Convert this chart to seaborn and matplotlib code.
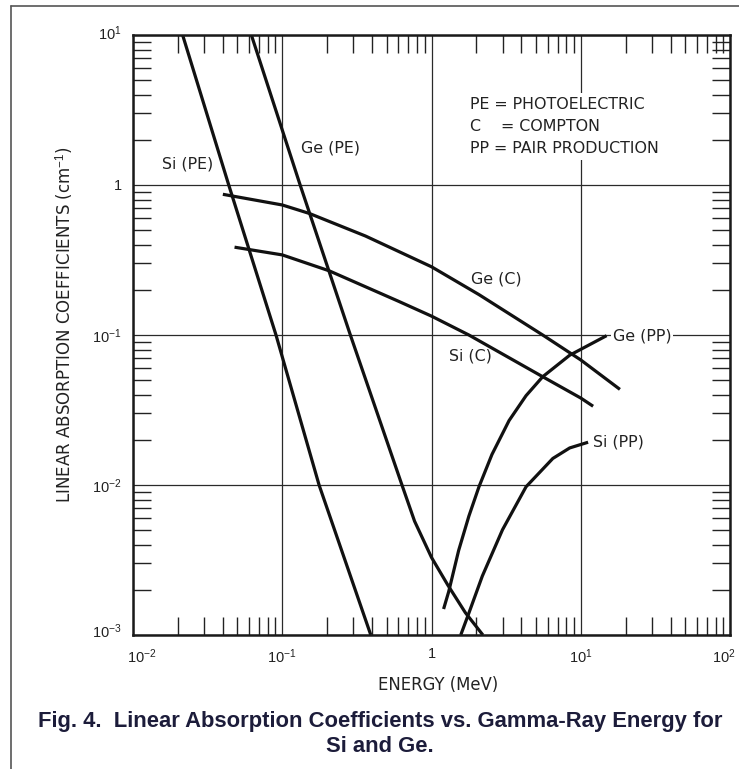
import matplotlib
matplotlib.use("Agg")
import matplotlib.pyplot as plt
from matplotlib.lines import Line2D
from matplotlib.transforms import ScaledTranslation
from matplotlib.ticker import LogLocator, NullFormatter, FixedLocator, FixedFormatter
import pandas as pd
import seaborn as sns

# Linear absorption coefficients (cm^-1) against gamma-ray energy (MeV)
si_pe_energy = [0.0215, 0.0438, 0.0908, 0.1765, 0.392]
si_pe_mu = [10.0, 1.0, 0.1, 0.01, 0.001]

ge_pe_energy = [0.0621, 0.1318, 0.286, 0.634, 0.77, 1.0, 1.287, 1.685, 2.21]
ge_pe_mu = [10.0, 1.0, 0.1, 0.01, 0.00574, 0.00329, 0.00215, 0.00141, 0.001]

ge_c_energy = [0.040, 0.100, 0.152, 0.361, 1.0, 2.078, 5.56, 10.0, 18.3]
ge_c_mu = [0.867, 0.736, 0.646, 0.457, 0.285, 0.186, 0.100, 0.0682, 0.0434]

si_c_energy = [0.0479, 0.100, 0.206, 0.603, 1.0, 1.78, 5.56, 10.0, 12.1]
si_c_mu = [0.385, 0.342, 0.268, 0.1676, 0.1336, 0.100, 0.0527, 0.038, 0.0335]

ge_pp_energy = [1.205, 1.303, 1.52, 1.78, 2.08, 2.54, 3.31, 4.30, 5.56, 8.43, 14.9]
ge_pp_mu = [0.00149, 0.00194, 0.00366, 0.0062, 0.00973, 0.01596, 0.0269, 0.0394,
            0.0527, 0.0733, 0.099]

si_pp_energy = [1.57, 1.78, 2.19, 2.99, 4.30, 6.5, 8.43, 11.2]
si_pp_mu = [0.001, 0.0014, 0.00247, 0.00503, 0.00973, 0.01503, 0.01766, 0.01928]

curve_names = ["Si (PE)", "Ge (PE)", "Ge (C)", "Si (C)", "Ge (PP)", "Si (PP)"]
curve_data = [
    (si_pe_energy, si_pe_mu),
    (ge_pe_energy, ge_pe_mu),
    (ge_c_energy, ge_c_mu),
    (si_c_energy, si_c_mu),
    (ge_pp_energy, ge_pp_mu),
    (si_pp_energy, si_pp_mu),
]

x_ticks = [1e-2, 1e-1, 1, 1e1, 1e2]
x_tick_labels = [r"$10^{-2}$", r"$10^{-1}$", "1", r"$10^{1}$", r"$10^{2}$"]
y_ticks = [1e-3, 1e-2, 1e-1, 1, 1e1]
y_tick_labels = [r"$10^{-3}$", r"$10^{-2}$", r"$10^{-1}$", "1", r"$10^{1}$"]

legend_lines = ["PE = PHOTOELECTRIC", "C    = COMPTON", "PP = PAIR PRODUCTION"]

frames = []
for name, (e, mu) in zip(curve_names, curve_data):
    frames.append(pd.DataFrame({"energy": e, "mu": mu, "curve": name}))
df = pd.concat(frames, ignore_index=True)

sns.set_theme(style="white")
plt.rcParams["font.family"] = ["Liberation Sans", "DejaVu Sans"]
plt.rcParams["mathtext.fontset"] = "custom"
plt.rcParams["mathtext.rm"] = "Liberation Sans"
plt.rcParams["mathtext.it"] = "Liberation Sans:italic"
plt.rcParams["mathtext.bf"] = "Liberation Sans:bold"

W, H = 739, 769
fig = plt.figure(figsize=(W / 100, H / 100), dpi=100)
fig.patch.set_facecolor("white")
ax = fig.add_axes([133 / W, 1 - 635 / H, 597 / W, 600 / H])

sns.lineplot(data=df, x="energy", y="mu", units="curve", estimator=None,
             sort=False, color="#111111", lw=2.3, ax=ax, legend=False,
             solid_capstyle="butt", solid_joinstyle="round")

ax.set_xscale("log")
ax.set_yscale("log")
ax.set_xlim(1e-2, 1e2)
ax.set_ylim(1e-3, 1e1)

ax.xaxis.set_major_locator(FixedLocator(x_ticks))
ax.xaxis.set_major_formatter(FixedFormatter(x_tick_labels))
ax.yaxis.set_major_locator(FixedLocator(y_ticks))
ax.yaxis.set_major_formatter(FixedFormatter(y_tick_labels))
ax.xaxis.set_minor_locator(LogLocator(base=10, subs=range(2, 10), numticks=20))
ax.yaxis.set_minor_locator(LogLocator(base=10, subs=range(2, 10), numticks=20))
ax.xaxis.set_minor_formatter(NullFormatter())
ax.yaxis.set_minor_formatter(NullFormatter())

ax.tick_params(which="major", length=0, labelsize=10.5, colors="#222222",
               top=True, right=True)
ax.tick_params(axis="x", which="major", pad=9)
ax.tick_params(axis="y", which="major", pad=8)
ax.tick_params(which="minor", direction="in", length=13, width=1.0,
               color="#222222", top=True, right=True, bottom=True, left=True)

# Nudge the end labels inward
xlabels = ax.get_xticklabels()
xlabels[0].set_transform(xlabels[0].get_transform()
                         + ScaledTranslation(0.09, 0, fig.dpi_scale_trans))
xlabels[-1].set_transform(xlabels[-1].get_transform()
                          + ScaledTranslation(-0.06, 0, fig.dpi_scale_trans))
ylabels = ax.get_yticklabels()
ylabels[0].set_transform(ylabels[0].get_transform()
                         + ScaledTranslation(0, 0.05, fig.dpi_scale_trans))
ylabels[-1].set_transform(ylabels[-1].get_transform()
                          + ScaledTranslation(0, 0.03, fig.dpi_scale_trans))

ax.grid(True, which="major", color="#2a2a2a", lw=0.9)
ax.grid(False, which="minor")
for sp in ax.spines.values():
    sp.set_color("#1a1a1a")
    sp.set_linewidth(1.8)
ax.set_xlabel("")
ax.set_ylabel("")

# Curve labels
note_font = ["DejaVu Sans"]
label_style = dict(fontsize=11.4, color="#222222", va="center", ha="left",
                   family=note_font)
ax.text(0.0156, 1.37, "Si (PE)", **label_style)
ax.text(0.134, 1.76, "Ge (PE)", **label_style)
ax.text(1.835, 0.236, "Ge (C)", **label_style)
ax.text(1.30, 0.0726, "Si (C)", **label_style)
ax.text(16.4, 0.099, "Ge (PP)",
        bbox=dict(facecolor="white", edgecolor="none", pad=1.0), **label_style)
ax.text(12.0, 0.0193, "Si (PP)", **label_style)

ax.text(1.81, 2.46, "\n".join(legend_lines), fontsize=11.4, color="#222222",
        va="center", ha="left", linespacing=1.58, family=note_font,
        bbox=dict(facecolor="white", edgecolor="none", pad=3))

# Axis titles
fig.text(64 / W, 1 - 325 / H, r"LINEAR ABSORPTION COEFFICIENTS (cm$^{-1}$)",
         rotation=90, ha="center", va="center", fontsize=12, color="#222222",
         family=note_font)
fig.text(438 / W, 1 - 685 / H, "ENERGY (MeV)", ha="center", va="center",
         fontsize=11.9, color="#222222", family=note_font)

# Caption
cap_color = "#1c1c3a"
fig.text(380 / W, 1 - 721 / H,
         "Fig. 4.  Linear Absorption Coefficients vs. Gamma-Ray Energy for",
         ha="center", va="center", fontsize=15.85, fontweight="bold", color=cap_color)
fig.text(380 / W, 1 - 746 / H, "Si and Ge.", ha="center", va="center",
         fontsize=15.85, fontweight="bold", color=cap_color)

# Frame around the figure
fig.add_artist(Line2D([11 / W, 11 / W], [0, 1 - 6 / H], transform=fig.transFigure,
                      color="#555555", lw=1.2))
fig.add_artist(Line2D([11 / W, 1], [1 - 6 / H, 1 - 6 / H], transform=fig.transFigure,
                      color="#555555", lw=1.2))

fig.savefig("out.png", dpi=100)
